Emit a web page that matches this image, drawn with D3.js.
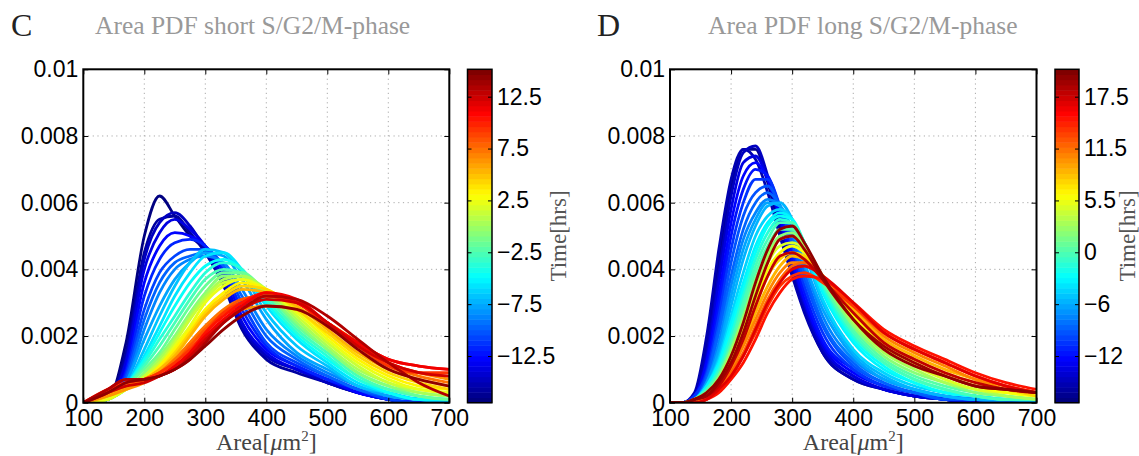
<!DOCTYPE html>
<html>
<head>
<meta charset="utf-8">
<script src="https://cdn.jsdelivr.net/npm/d3@7"></script>
<style>
  body { margin: 0; background: #fff; }
  svg { display: block; }
</style>
</head>
<body>
<svg id="chart" width="1139" height="456"></svg>
<script>
// shared axes
const xTicks = [100, 200, 300, 400, 500, 600, 700];
const yTicks = [0, 0.002, 0.004, 0.006, 0.008, 0.01];
const yTickLabels = ['0', '0.002', '0.004', '0.006', '0.008', '0.01'];
const yUnit = 1e-4; // pdf values below are read in units of 1e-4

// panel C: short S/G2/M-phase
const xShort = [100, 140, 170, 200, 225, 250, 275, 300, 330, 360, 400, 450, 500, 550, 600, 650, 700];
const timesShort = [-16.5, -15.5, -14.5, -13.5, -12.5, -11.5, -10.5, -9.5, -8.5, -7.5, -6.5, -5.5, -4.5, -3.5, -2.5, -1.5,
  -0.5, 0.5, 1.5, 2.5, 3.5, 4.5, 5.5, 6.5, 7.5, 8.5, 9.5, 10.5, 11.5, 12.5, 13.5, 14.5];
const pdfShort = [
  [0, 1, 18, 50, 62, 56, 50, 46, 37, 24, 14, 10, 6, 3, 1, 0, 0],
  [0, 1, 15, 45, 55, 56, 51, 45, 35, 22, 13, 9, 6, 3, 1, 0, 0],
  [0, 1, 13, 43, 54, 57, 53, 46, 36, 23, 14, 10, 6, 3, 1, 0, 0],
  [0, 1, 12, 40, 51, 55, 52, 47, 37, 24, 15, 10, 7, 3, 1, 0, 0],
  [0, 1, 10, 36, 47, 51, 50, 47, 39, 26, 16, 11, 7, 3, 1, 0, 0],
  [0, 1, 9, 32, 43, 48, 49, 47, 40, 28, 17, 11, 7, 4, 1, 0, 0],
  [0, 1, 8, 28, 39, 44, 46, 46, 41, 30, 18, 12, 8, 4, 1, 0, 0],
  [0, 1, 7, 25, 36, 42, 44, 45, 41, 32, 20, 13, 8, 4, 2, 1, 0],
  [0, 1, 6, 22, 33, 40, 43, 44, 42, 34, 22, 14, 9, 5, 2, 1, 0],
  [0, 1, 6, 19, 29, 37, 42, 45, 44, 37, 25, 15, 10, 5, 2, 1, 0],
  [0, 1, 5, 16, 26, 35, 42, 46, 45, 39, 27, 17, 11, 5, 3, 1, 0],
  [0, 1, 5, 14, 23, 32, 39, 44, 45, 40, 29, 19, 12, 6, 3, 1, 1],
  [0, 1, 5, 13, 21, 29, 36, 41, 43, 40, 30, 20, 13, 7, 3, 1, 1],
  [0, 1, 5, 12, 19, 26, 33, 39, 42, 40, 31, 21, 14, 7, 4, 2, 1],
  [0, 1, 5, 11, 17, 24, 31, 37, 40, 39, 32, 22, 15, 8, 4, 2, 1],
  [0, 1, 5, 10, 15, 22, 29, 35, 39, 39, 33, 23, 16, 9, 5, 2, 1],
  [0, 1, 4, 9, 14, 20, 27, 33, 38, 38, 33, 24, 16, 9, 5, 3, 2],
  [0, 1, 4, 8, 13, 19, 26, 32, 37, 38, 34, 25, 17, 10, 6, 3, 2],
  [0, 1, 4, 8, 12, 18, 25, 31, 36, 37, 34, 26, 18, 11, 6, 4, 3],
  [0, 1, 4, 7, 11, 17, 23, 30, 35, 37, 34, 27, 19, 12, 7, 4, 3],
  [0, 2, 4, 7, 11, 16, 22, 28, 33, 36, 34, 28, 20, 13, 8, 5, 4],
  [0, 2, 4, 7, 10, 15, 21, 27, 32, 35, 34, 28, 21, 14, 9, 6, 4],
  [0, 2, 5, 7, 10, 14, 20, 26, 31, 34, 33, 29, 22, 15, 10, 7, 5],
  [0, 2, 4, 6, 9, 13, 18, 23, 27, 28, 29, 28, 24, 18, 12, 9, 7],
  [0, 3, 5, 7, 9, 13, 18, 23, 28, 31, 32, 30, 24, 17, 11, 8, 6],
  [0, 3, 6, 7, 9, 12, 17, 22, 27, 31, 32, 30, 24, 18, 12, 9, 8],
  [0, 4, 6, 7, 9, 12, 16, 21, 27, 30, 32, 30, 23, 17, 11, 9, 9],
  [0, 3, 6, 7, 8, 11, 15, 21, 26, 30, 33, 30, 24, 18, 13, 11, 10],
  [0, 4, 7, 7, 8, 11, 15, 20, 25, 29, 33, 31, 24, 18, 13, 11, 10],
  [0, 3, 5, 6, 8, 10, 14, 19, 24, 28, 31, 30, 24, 17, 12, 9, 8],
  [0, 4, 7, 7, 8, 10, 13, 18, 24, 28, 32, 31, 26, 19, 12, 6, 2],
  [0, 3, 6, 7, 8, 10, 13, 17, 22, 26, 29, 28, 23, 16, 10, 7, 5]
];
const cbShortRange = [-17, 15.14];
const cbShortTicks = [-12.5, -7.5, -2.5, 2.5, 7.5, 12.5];
const cbShortLabels = ['\u221212.5', '\u22127.5', '\u22122.5', '2.5', '7.5', '12.5'];

// panel D: long S/G2/M-phase
const xLong = [100, 120, 140, 160, 180, 200, 220, 240, 260, 280, 300, 320, 350, 400, 450, 500, 550, 600, 650, 700];
const timesLong = [-17, -16, -15, -14, -13, -12, -11, -10, -9, -8, -7, -6, -5, -4, -3, -2, -1, 0,
  1.5, 3, 4.5, 6, 7.5, 9, 10.5, 12, 13.5, 15, 16.5, 18, 19, 20];
const pdfLong = [
  [0, 0, 2, 18, 42, 64, 76, 76, 66, 52, 40, 28, 15, 7, 4, 2, 1, 0, 0, 0],
  [0, 0, 3, 20, 46, 67, 76, 73, 63, 50, 38, 27, 15, 7, 4, 2, 1, 0, 0, 0],
  [0, 0, 2, 15, 39, 62, 75, 77, 68, 54, 41, 29, 16, 8, 4, 2, 1, 0, 0, 0],
  [0, 0, 2, 13, 36, 58, 72, 74, 67, 55, 42, 30, 17, 8, 4, 2, 1, 0, 0, 0],
  [0, 0, 2, 12, 32, 54, 68, 72, 67, 56, 43, 31, 18, 9, 5, 3, 1, 0, 0, 0],
  [0, 0, 2, 10, 29, 50, 64, 70, 68, 58, 45, 33, 19, 10, 5, 3, 1, 0, 0, 0],
  [0, 0, 2, 9, 26, 46, 60, 67, 67, 59, 47, 35, 21, 10, 5, 3, 1, 1, 0, 0],
  [0, 0, 1, 8, 23, 42, 56, 63, 65, 59, 48, 37, 23, 11, 6, 3, 1, 1, 0, 0],
  [0, 0, 1, 7, 21, 38, 52, 60, 63, 59, 50, 39, 24, 12, 6, 3, 2, 1, 0, 0],
  [0, 0, 1, 6, 18, 35, 49, 57, 61, 59, 51, 41, 26, 13, 7, 4, 2, 1, 0, 0],
  [0, 0, 1, 6, 16, 32, 46, 55, 60, 59, 52, 42, 28, 14, 7, 4, 2, 1, 1, 0],
  [0, 0, 1, 5, 14, 29, 43, 53, 59, 60, 55, 45, 30, 15, 8, 4, 2, 1, 1, 0],
  [0, 0, 1, 5, 13, 26, 39, 50, 56, 58, 55, 46, 31, 16, 9, 5, 3, 2, 1, 1],
  [0, 0, 1, 5, 12, 24, 36, 47, 54, 57, 55, 47, 33, 18, 10, 6, 3, 2, 1, 1],
  [0, 0, 1, 4, 11, 22, 34, 45, 53, 56, 55, 48, 34, 19, 11, 6, 3, 2, 1, 1],
  [0, 0, 1, 4, 10, 20, 32, 43, 51, 55, 54, 48, 35, 20, 12, 7, 4, 2, 1, 1],
  [0, 0, 1, 4, 9, 18, 30, 41, 49, 54, 54, 48, 36, 21, 12, 7, 4, 2, 1, 1],
  [0, 0, 1, 3, 8, 17, 28, 39, 47, 52, 52, 47, 36, 22, 13, 8, 5, 3, 2, 1],
  [0, 0, 1, 3, 8, 16, 26, 37, 45, 50, 51, 47, 37, 23, 14, 9, 6, 3, 2, 1],
  [0, 0, 1, 3, 7, 15, 25, 35, 44, 49, 50, 47, 38, 24, 15, 10, 6, 4, 2, 1],
  [0, 0, 1, 3, 7, 14, 23, 33, 42, 47, 48, 46, 38, 25, 16, 11, 7, 4, 3, 2],
  [0, 0, 0, 2, 6, 13, 22, 31, 40, 45, 47, 45, 38, 26, 17, 12, 8, 5, 3, 2],
  [0, 0, 0, 2, 6, 12, 20, 29, 38, 43, 45, 44, 38, 27, 18, 13, 9, 6, 4, 2],
  [0, 0, 0, 2, 5, 11, 18, 27, 35, 41, 44, 43, 38, 28, 19, 14, 10, 7, 4, 3],
  [0, 0, 0, 2, 5, 10, 17, 25, 33, 39, 42, 42, 38, 29, 20, 15, 11, 7, 5, 3],
  [0, 0, 0, 1, 4, 9, 15, 23, 31, 37, 41, 42, 38, 29, 21, 16, 12, 8, 5, 3],
  [0, 0, 0, 1, 4, 8, 14, 21, 29, 35, 38, 39, 36, 29, 21, 16, 12, 8, 5, 3],
  [0, 0, 0, 1, 3, 7, 12, 19, 27, 33, 37, 38, 37, 30, 22, 17, 13, 9, 6, 4],
  [0, 0, 0, 1, 4, 8, 14, 22, 30, 36, 40, 41, 38, 30, 21, 16, 12, 8, 5, 3],
  [0, 0, 1, 2, 5, 11, 19, 29, 38, 44, 45, 43, 37, 27, 18, 13, 9, 6, 4, 3],
  [0, 0, 1, 2, 6, 12, 21, 32, 42, 49, 50, 46, 37, 25, 17, 12, 8, 5, 4, 3],
  [0, 0, 1, 3, 7, 14, 24, 36, 46, 52, 53, 48, 38, 25, 16, 11, 8, 5, 4, 3]
];
const cbLongRange = [-17.9, 20.67];
const cbLongTicks = [-12.5, -6.5, -0.5, 5.5, 11.5, 17.5];
const cbLongLabels = ['\u221212', '\u22126', '0', '5.5', '11.5', '17.5'];

const svg = d3.select('#chart');
const sans = "'Liberation Sans', Arial, Helvetica, sans-serif";
const serif = "'Liberation Serif', 'Times New Roman', serif";

// MATLAB jet, 64 levels
function jet(v) {
  const q = Math.min(63, Math.max(0, Math.floor(v * 64))) / 63;
  const c = (a) => Math.round(255 * Math.max(0, Math.min(1, 1.5 - Math.abs(4 * q - a))));
  return d3.rgb(c(3), c(2), c(1)).toString();
}

function panel(opt) {
  const [x0, y0, x1, y1] = opt.plot;
  const x = d3.scaleLinear().domain([100, 700]).range([x0, x1]);
  const y = d3.scaleLinear().domain([0, 0.01]).range([y1, y0]);
  const g = svg.append('g');

  // panel letter and title
  g.append('text').attr('x', opt.letterX).attr('y', 36)
    .style('font-family', serif).style('font-size', '32px').style('fill', '#222').text(opt.letter);
  g.append('text').attr('x', opt.titleX).attr('y', 34)
    .style('font-family', serif).style('font-size', '25.5px').style('fill', '#999').text(opt.title);

  // dotted grid
  const grid = g.append('g').attr('stroke', '#aaa').attr('stroke-width', 1).attr('stroke-dasharray', '1.2,3.5');
  xTicks.slice(1, -1).forEach(v => grid.append('line').attr('x1', x(v)).attr('x2', x(v)).attr('y1', y0).attr('y2', y1));
  yTicks.slice(1, -1).forEach(v => grid.append('line').attr('x1', x0).attr('x2', x1).attr('y1', y(v)).attr('y2', y(v)));

  // curves
  const clipId = 'clip-' + opt.letter;
  g.append('clipPath').attr('id', clipId).append('rect')
    .attr('x', x0).attr('y', y0).attr('width', x1 - x0).attr('height', y1 - y0);
  const tScale = d3.scaleLinear().domain(opt.cbRange).range([0, 1]);
  const line = d3.line().curve(d3.curveMonotoneX)
    .x((d, i) => x(opt.xs[i])).y(d => y(d * yUnit));
  g.append('g').attr('clip-path', `url(#${clipId})`)
    .selectAll('path').data(opt.curves).join('path')
    .attr('d', line)
    .attr('fill', 'none')
    .attr('stroke', (d, i) => jet(tScale(opt.times[i])))
    .attr('stroke-width', 2.8)
    .attr('stroke-linejoin', 'round');

  // axes: ticks inward on all sides
  const ax = g.append('g');
  ax.append('g').attr('transform', `translate(0,${y1})`)
    .call(d3.axisBottom(x).tickValues(xTicks).tickSizeInner(-5).tickSizeOuter(0).tickPadding(7).tickFormat(d3.format('d')));
  ax.append('g').attr('transform', `translate(0,${y0})`)
    .call(d3.axisTop(x).tickValues(xTicks).tickSizeInner(-5).tickSizeOuter(0).tickFormat(''));
  ax.append('g').attr('transform', `translate(${x0},0)`)
    .call(d3.axisLeft(y).tickValues(yTicks).tickSizeInner(-5).tickSizeOuter(0).tickPadding(5)
      .tickFormat((d, i) => yTickLabels[i]));
  ax.append('g').attr('transform', `translate(${x1},0)`)
    .call(d3.axisRight(y).tickValues(yTicks).tickSizeInner(-5).tickSizeOuter(0).tickFormat(''));
  ax.selectAll('.domain').remove();
  ax.selectAll('.tick line').attr('stroke', '#000').attr('stroke-width', 1);
  ax.selectAll('text').style('font-family', sans).style('font-size', '23px').attr('fill', '#000');
  g.append('rect').attr('x', x0).attr('y', y0).attr('width', x1 - x0).attr('height', y1 - y0)
    .attr('fill', 'none').attr('stroke', '#000').attr('stroke-width', 2);

  // x label
  const xl = g.append('text').attr('x', (x0 + x1) / 2).attr('y', 450).attr('text-anchor', 'middle')
    .style('font-family', serif).style('font-size', '24px').style('fill', '#444');
  xl.append('tspan').text('Area[');
  xl.append('tspan').style('font-style', 'italic').text('\u03bc');
  xl.append('tspan').text('m');
  xl.append('tspan').attr('dy', -9).style('font-size', '15px').text('2');
  xl.append('tspan').attr('dy', 9).text(']');

  // colorbar
  const [c0, c1] = opt.cb;
  const cy = d3.scaleLinear().domain(opt.cbRange).range([y1, y0]);
  const levels = d3.range(64);
  const lv = d3.scaleLinear().domain([0, 64]).range(opt.cbRange);
  const cbar = g.append('g');
  cbar.selectAll('rect').data(levels).join('rect')
    .attr('x', c0).attr('width', c1 - c0)
    .attr('y', d => cy(lv(d + 1)))
    .attr('height', d => cy(lv(d)) - cy(lv(d + 1)) + 0.5)
    .attr('fill', d => jet((d + 0.5) / 64));
  const cax = cbar.append('g').attr('transform', `translate(${c1},0)`)
    .call(d3.axisRight(cy).tickValues(opt.cbTicks).tickSizeInner(-4).tickSizeOuter(0).tickPadding(5)
      .tickFormat((d, i) => opt.cbLabels[i]));
  cbar.append('g').attr('transform', `translate(${c0},0)`)
    .call(d3.axisLeft(cy).tickValues(opt.cbTicks).tickSizeInner(-4).tickSizeOuter(0).tickFormat(''))
    .selectAll('.domain').remove();
  cax.select('.domain').remove();
  cbar.selectAll('.tick line').attr('stroke', '#000');
  cax.selectAll('text').style('font-family', sans).style('font-size', '23px').attr('fill', '#000');
  cbar.append('rect').attr('x', c0).attr('y', y0).attr('width', c1 - c0).attr('height', y1 - y0)
    .attr('fill', 'none').attr('stroke', '#000').attr('stroke-width', 1.5);

  g.append('text').attr('transform', `translate(${opt.timeX},${(y0 + y1) / 2}) rotate(-90)`)
    .attr('text-anchor', 'middle').attr('dy', '0.35em')
    .style('font-family', serif).style('font-size', '23px').style('fill', '#555').text('Time[hrs]');
}

panel({
  letter: 'C', title: 'Area PDF short S/G2/M-phase', letterX: 11, titleX: 95,
  plot: [83.3, 69.3, 449.3, 402.7], cb: [467.5, 492], timeX: 558,
  xs: xShort, times: timesShort, curves: pdfShort,
  cbRange: cbShortRange, cbTicks: cbShortTicks, cbLabels: cbShortLabels
});
panel({
  letter: 'D', title: 'Area PDF long S/G2/M-phase', letterX: 597, titleX: 708,
  plot: [670, 69.3, 1036.5, 402.7], cb: [1055, 1079], timeX: 1127,
  xs: xLong, times: timesLong, curves: pdfLong,
  cbRange: cbLongRange, cbTicks: cbLongTicks, cbLabels: cbLongLabels
});
</script>
</body>
</html>
